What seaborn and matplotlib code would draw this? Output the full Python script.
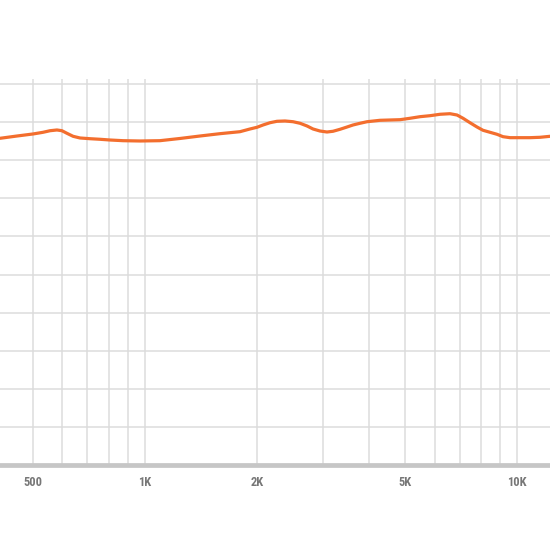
import numpy as np
import pandas as pd
import matplotlib
matplotlib.use("Agg")
import matplotlib.pyplot as plt
import matplotlib.ticker as ticker
import seaborn as sns

# frequency response (Hz, relative level)
freq_hz = [409, 454, 501, 533, 557, 581, 599, 618, 642, 670, 713, 758, 806,
           874, 971, 1098, 1243, 1407, 1592, 1801, 1916, 2001, 2077, 2169,
           2264, 2379, 2500, 2610, 2726, 2829, 2953, 3084, 3201, 3343, 3490,
           3622, 3783, 3951, 4280, 4844, 5152, 5482, 5832, 6201, 6597, 6889,
           7151, 7464, 7796, 8089, 8450, 8820, 9155, 9561, 10170, 10818,
           11508, 12240]
level = [85.75, 86.35, 86.88, 87.32, 87.74, 87.93, 87.74, 87.06, 86.27, 85.83,
         85.64, 85.49, 85.30, 85.12, 85.04, 85.12, 85.70, 86.35, 86.96, 87.48,
         88.19, 88.64, 89.24, 89.84, 90.21, 90.29, 90.10, 89.69, 88.98, 88.19,
         87.66, 87.40, 87.59, 88.11, 88.71, 89.24, 89.69, 90.10, 90.47, 90.63,
         91.00, 91.42, 91.68, 92.05, 92.20, 91.86, 91.00, 89.84, 88.71, 87.85,
         87.32, 86.80, 86.17, 85.91, 85.91, 85.91, 86.01, 86.27]

major_ticks = [500, 1000, 2000, 5000, 10000]
major_labels = ["500", "1K", "2K", "5K", "10K"]
minor_ticks = [600, 700, 800, 900, 3000, 4000, 6000, 7000, 8000, 9000]

df = pd.DataFrame({"freq": freq_hz, "level": level})

sns.set_style("white")
plt.rcParams["font.family"] = ["Liberation Sans Narrow", "Roboto Condensed",
                               "Roboto", "DejaVu Sans"]

fig = plt.figure(figsize=(5.5, 5.5), dpi=100)
ax = fig.add_axes([0, 0.1545, 1, 0.7018])

sns.lineplot(data=df, x="freq", y="level", ax=ax, color="#f36e2e",
             linewidth=2.3, zorder=3)
ax.lines[0].set_solid_capstyle("round")
ax.lines[0].set_solid_joinstyle("round")

ax.set_xscale("log")
ax.set_xlim(408.6, 12240)
ax.set_ylim(0, 101.3)

ax.xaxis.set_major_locator(ticker.FixedLocator(major_ticks))
ax.xaxis.set_major_formatter(ticker.FixedFormatter(major_labels))
ax.xaxis.set_minor_locator(ticker.FixedLocator(minor_ticks))
ax.xaxis.set_minor_formatter(ticker.NullFormatter())
ax.set_yticks(np.arange(10, 101, 10))
ax.set_yticklabels([])

ax.grid(True, which="both", axis="x", color="#dcdcdc", linewidth=1.1)
ax.grid(True, which="major", axis="y", color="#dcdcdc", linewidth=1.1)
ax.set_axisbelow(True)

ax.tick_params(axis="both", which="both", length=0)
ax.tick_params(axis="x", pad=8, labelsize=9, labelcolor="#777777")
for lab in ax.get_xticklabels():
    lab.set_fontweight("bold")

for side in ["top", "left", "right"]:
    ax.spines[side].set_visible(False)
ax.spines["bottom"].set_color("#c6c6c6")
ax.spines["bottom"].set_linewidth(3.4)
ax.spines["bottom"].set_zorder(4)

ax.set_xlabel("")
ax.set_ylabel("")

fig.savefig("out.png", dpi=100, facecolor="white")
